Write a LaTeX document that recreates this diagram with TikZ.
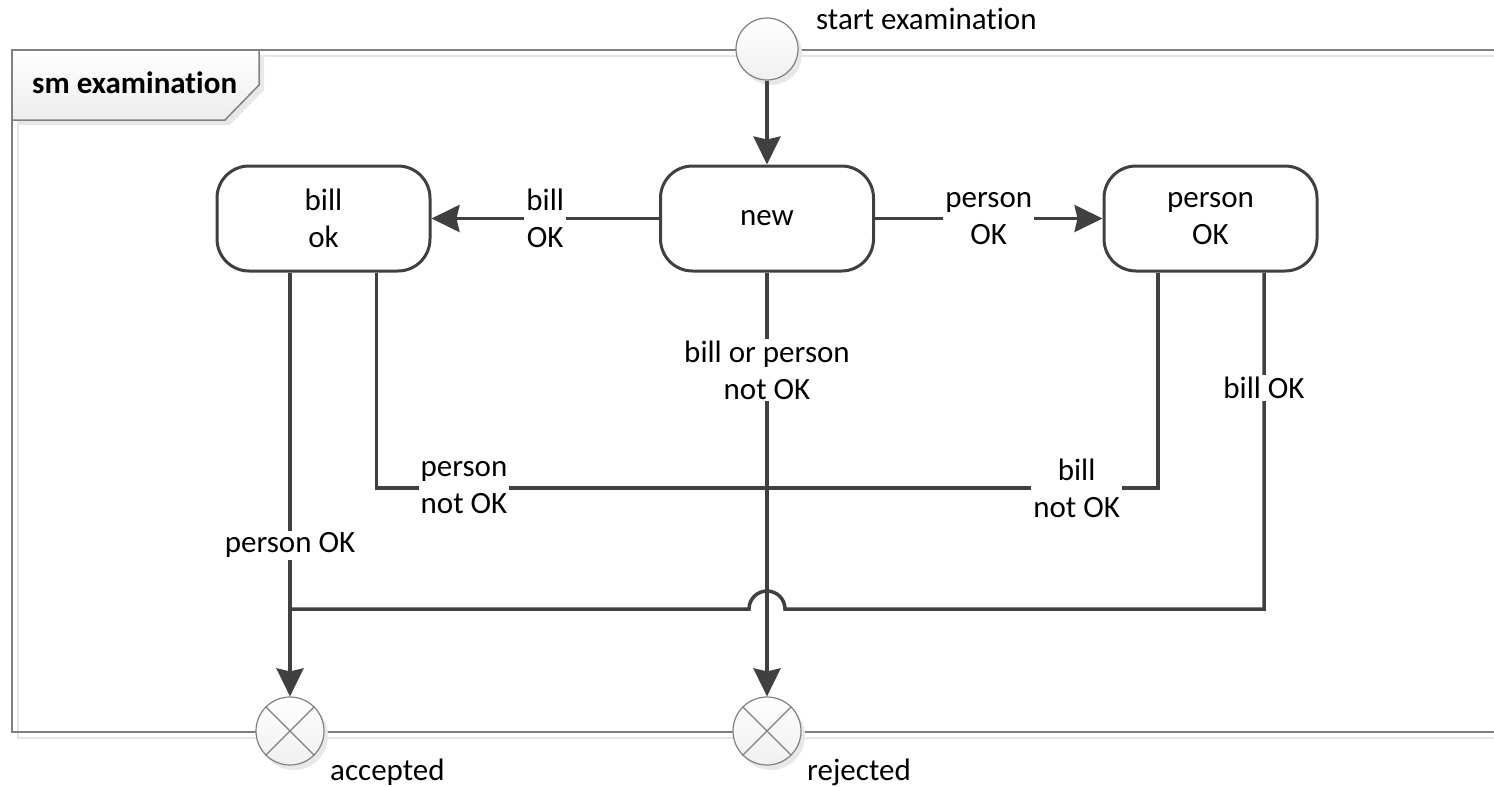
\documentclass[tikz,border=0pt]{standalone}
\usepackage{fontspec}
\setmainfont{Carlito}[Ligatures=NoCommon]
\usetikzlibrary{arrows.meta,shadings}
\definecolor{ln}{HTML}{404040}
\definecolor{frm}{HTML}{808080}
\definecolor{shd}{HTML}{E6E6E6}
\begin{document}
\begin{tikzpicture}[x=1pt,y=-1pt,
  every node/.style={font=\fontsize{31}{37}\selectfont},
  state/.style={draw=ln, line width=3pt, rounded corners=32pt, minimum width=213pt, minimum height=105pt, align=center, fill=white},
  conn/.style={draw=ln, line width=3.5pt},
  arr/.style={conn, -{Stealth[length=28pt,width=27pt,inset=3pt]}},
  lbl/.style={fill=white, inner sep=2pt, align=center},
  pseudo/.style={circle, draw=frm, line width=1.2pt, inner sep=0pt, top color=white, bottom color=gray!12},
  tag/.style={inner sep=0pt, anchor=base west}
]
\useasboundingbox (0,0) rectangle (1494,787);
\clip (0,0) rectangle (1494,787);
% frame shadow
\draw[shd, line width=2pt] (18,120) -- (18,738) -- (1500,738);
\draw[shd, line width=2pt] (264,56) -- (1500,56);
% frame
\draw[frm, line width=1.5pt] (1510,50) -- (12,50) -- (12,732) -- (1510,732);
% tab
\fill[gray!18] (17,55) -- (264,55) -- (264,90) -- (230,125) -- (17,125) -- cycle;
\shade[top color=white, bottom color=gray!14, draw=frm, line width=1.5pt] (12,50) -- (259,50) -- (259,85) -- (225,120) -- (12,120) -- cycle;
\node[tag, font=\fontsize{31}{37}\selectfont\bfseries] (title) at (32,93) {sm examination};
% states
\node[state] (billok) at (323.5,218.5) {bill\\ok};
\node[state] (new) at (767,218.5) {new};
\node[state] (personok) at (1210.5,218.5) {person\\OK};
% initial
\fill[gray!18] (771,54) circle (31);
\node[pseudo, minimum size=62pt] (start) at (767,49) {};
\node[tag] (startlbl) at (816,29) {start examination};
% finals
\fill[gray!18] (294,736) circle (34);
\fill[gray!18] (771,736) circle (34);
\node[pseudo, minimum size=68pt] (acc) at (290,731) {};
\node[pseudo, minimum size=68pt] (rej) at (767,731) {};
\draw[frm, line width=1.2pt] (acc.north west) -- (acc.south east) (acc.north east) -- (acc.south west);
\draw[frm, line width=1.2pt] (rej.north west) -- (rej.south east) (rej.north east) -- (rej.south west);
\node[tag] (acclbl) at (330,780) {accepted};
\node[tag] (rejlbl) at (807,780) {rejected};
% junctions
\coordinate (j1) at (767,488);
\coordinate (j2) at (290,609);
\coordinate (k2) at (1264,609);
% connectors
\draw[arr] (start) -- (new);
\draw[arr] (new.west) -- node[lbl]{bill\\OK} (billok.east);
\draw[arr] (new.east) -- node[lbl]{person\\OK} (personok.west);
\draw[arr] (new.south) -- node[lbl, pos=0.23]{bill or person\\not OK} (rej.north);
\draw[arr] ([xshift=-33.5pt]billok.south) -- node[lbl, pos=0.643]{person OK} (acc.north);
\draw[conn] ([xshift=53pt]billok.south) |- node[lbl, pos=0.612]{person\\not OK} (j1);
\draw[conn] ([xshift=-52.5pt]personok.south) |- node[lbl, pos=0.604]{bill\\not OK} (j1);
\draw[conn] ([xshift=53.5pt]personok.south) -- node[lbl, pos=0.344]{bill OK} (k2) -- (785,609) arc[start angle=0, end angle=-180, radius=18] -- (j2);
\end{tikzpicture}
\end{document}
